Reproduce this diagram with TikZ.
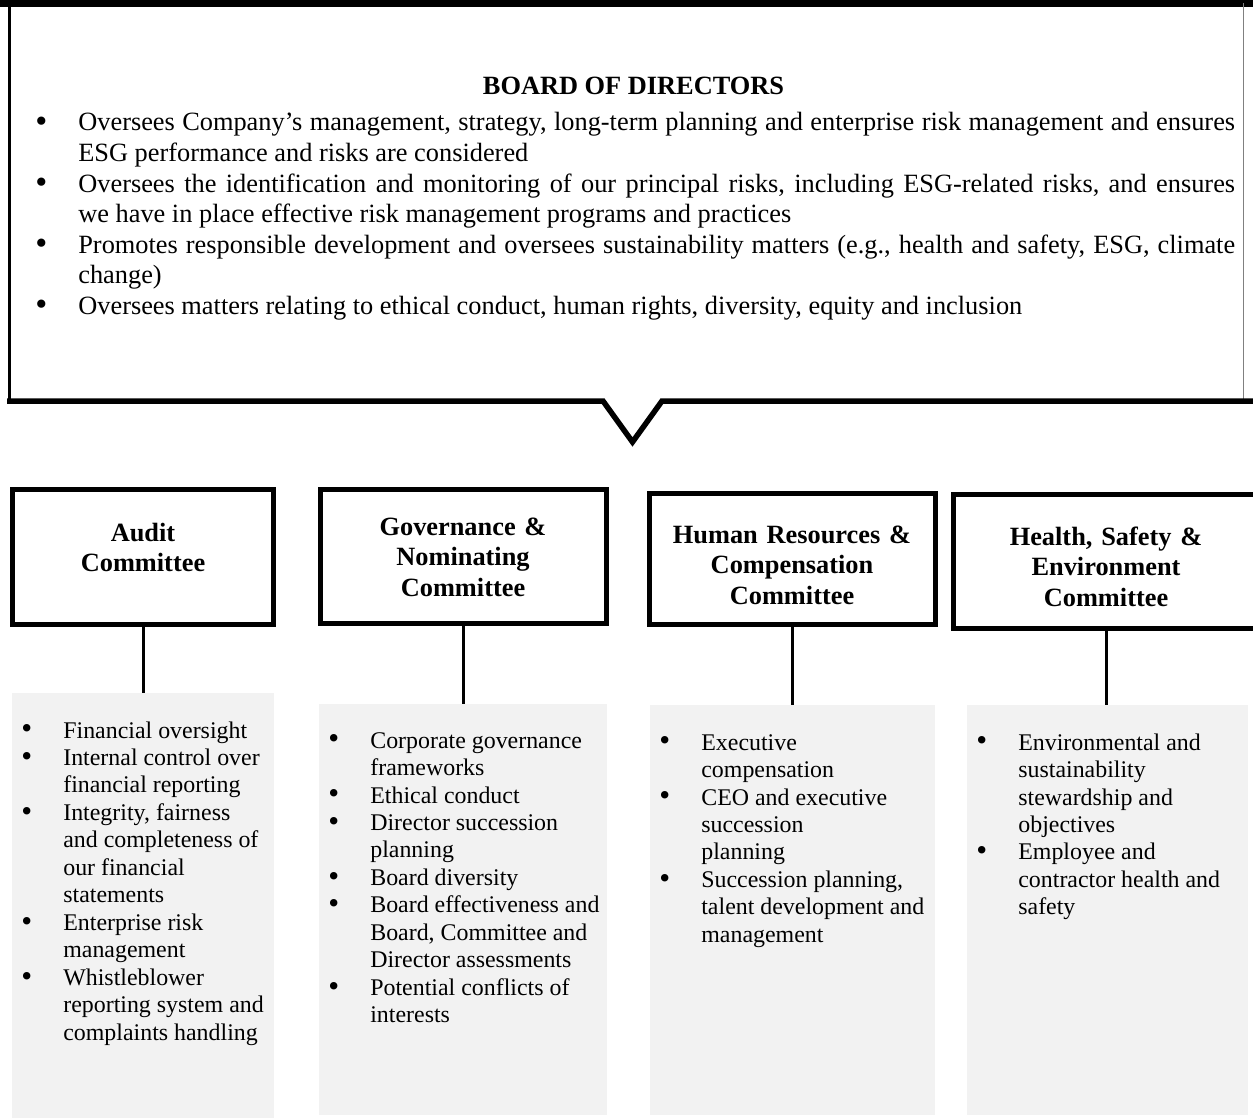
\documentclass[tikz,border=0pt]{standalone}
\usepackage{fontspec}
\setmainfont{Liberation Serif}
\newcommand\bodfont{\fontsize{15pt}{17.4pt}\selectfont}
\newcommand\listfont{\fontsize{13.6pt}{15.65pt}\selectfont}
\newcommand\bul{\raisebox{-0.04em}{\scalebox{1.3}{\textbullet}}}
\newcommand\bodpt{\noindent\hangindent=0.86cm\hangafter=1\makebox[0.86cm][l]{\bul}}
\frenchspacing
\begin{document}
\begin{tikzpicture}[x=0.02cm,y=-0.02cm,line join=miter]
\tikzset{
  cbox/.style={draw,line width=0.1cm,inner sep=0},
  ctitle/.style={font=\bfseries\bodfont,align=center,text width=6cm,inner sep=0,anchor=base},
  lbox/.style={fill=gray!10,inner sep=0},
  ltext/.style={font=\listfont,inner sep=0,anchor=base west},
  conn/.style={line width=0.06cm}
}
\useasboundingbox (0,0) rectangle (1253,1118);

% board of directors
\draw[line width=0.13cm] (0,3.5) -- (1253,3.5);
\draw[line width=0.06cm] (9.5,3.5) -- (9.5,401);
\draw[gray,line width=0.02cm] (1243,3.5) -- (1243,401);
\draw[line width=0.11cm] (7,401) -- (603,401) -- (632.5,442) -- (662,401) -- (1253,401);
\node[font=\bfseries\bodfont,inner sep=0,anchor=base] (bod-title) at (633.5,95) {BOARD OF DIRECTORS};
\node[font=\bodfont,text width=24cm,align=justify,inner sep=0,anchor=base west] (bod-text) at (35,131) {%
\bodpt Oversees Company’s management, strategy, long-term planning and enterprise risk management and ensures\linebreak ESG performance and risks are considered\par
\bodpt Oversees the identification and monitoring of our principal risks, including ESG-related risks, and ensures\linebreak we have in place effective risk management programs and practices\par
\bodpt Promotes responsible development and oversees sustainability matters (e.g., health and safety, ESG, climate\linebreak change)\par
\bodpt Oversees matters relating to ethical conduct, human rights, diversity, equity and inclusion\par};

% committees
\node[cbox,minimum width=5.22cm,minimum height=2.70cm] (aud) at (143,557) {};
\node[cbox,minimum width=5.72cm,minimum height=2.68cm] (gov) at (463.5,556.5) {};
\node[cbox,minimum width=5.72cm,minimum height=2.62cm] (hr) at (792.5,559) {};
\node[cbox,minimum width=6.10cm,minimum height=2.68cm] (hse) at (1106,561.5) {};
\node[ctitle] (aud-title) at (143,541) {Audit\\Committee};
\node[ctitle] (gov-title) at (463,535) {Governance \&\\Nominating\\Committee};
\node[ctitle] (hr-title) at (792,543) {Human Resources \&\\Compensation\\Committee};
\node[ctitle] (hse-title) at (1106,545) {Health, Safety \&\\Environment\\Committee};

% duties
\node[lbox,minimum width=5.24cm,minimum height=8.50cm] (aud-list) at (143,905.5) {};
\node[lbox,minimum width=5.76cm,minimum height=8.22cm] (gov-list) at (463,909.5) {};
\node[lbox,minimum width=5.70cm,minimum height=8.20cm] (hr-list) at (792.5,910) {};
\node[lbox,minimum width=5.62cm,minimum height=8.20cm] (hse-list) at (1107.5,910) {};
\foreach \n in {aud,gov,hr,hse}
  \draw[conn] (\n.south) -- (\n.south |- \n-list.north);

\node[ltext] (aud-text) at (21,738) {\begin{tabular}[t]{@{}p{0.84cm}@{}l@{}}
\bul & Financial oversight\\
\bul & Internal control over\\
 & financial reporting\\
\bul & Integrity, fairness\\
 & and completeness of\\
 & our financial\\
 & statements\\
\bul & Enterprise risk\\
 & management\\
\bul & Whistleblower\\
 & reporting system and\\
 & complaints handling
\end{tabular}};
\node[ltext] (gov-text) at (328,748) {\begin{tabular}[t]{@{}p{0.84cm}@{}l@{}}
\bul & Corporate governance\\
 & frameworks\\
\bul & Ethical conduct\\
\bul & Director succession\\
 & planning\\
\bul & Board diversity\\
\bul & Board effectiveness and\\
 & Board, Committee and\\
 & Director assessments\\
\bul & Potential conflicts of\\
 & interests
\end{tabular}};
\node[ltext] (hr-text) at (659,750) {\begin{tabular}[t]{@{}p{0.84cm}@{}l@{}}
\bul & Executive\\
 & compensation\\
\bul & CEO and executive\\
 & succession\\
 & planning\\
\bul & Succession planning,\\
 & talent development and\\
 & management
\end{tabular}};
\node[ltext] (hse-text) at (976,750) {\begin{tabular}[t]{@{}p{0.84cm}@{}l@{}}
\bul & Environmental and\\
 & sustainability\\
 & stewardship and\\
 & objectives\\
\bul & Employee and\\
 & contractor health and\\
 & safety
\end{tabular}};
\end{tikzpicture}
\end{document}
